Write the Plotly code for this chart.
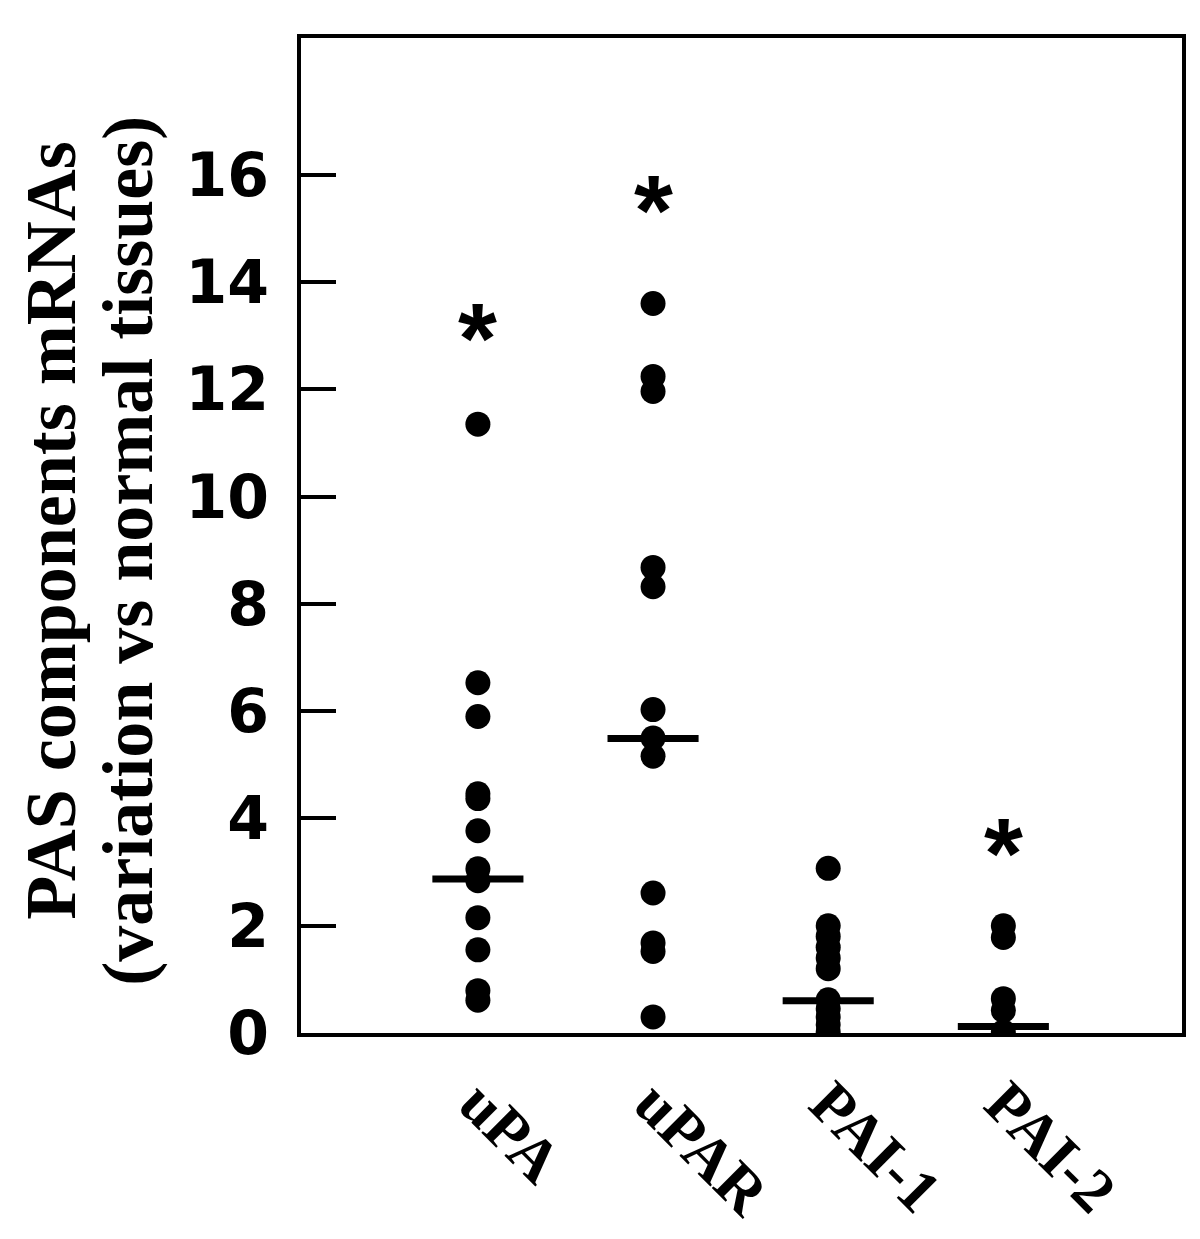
import plotly.graph_objects as go

categories = ["uPA", "uPAR", "PAI-1", "PAI-2"]
upa = [11.35, 6.53, 5.90, 4.46, 4.37, 3.77, 3.06, 2.84, 2.15, 1.55, 0.79, 0.61]
upar = [13.6, 12.24, 11.96, 8.68, 8.32, 6.03, 5.50, 5.16, 2.61, 1.68, 1.52, 0.30]
pai1 = [3.07, 2.0, 1.8, 1.6, 1.4, 1.2, 0.62, 0.45, 0.3, 0.15, 0.02]
pai2 = [2.0, 1.78, 0.64, 0.42, 0.02]
medians = [2.87, 5.49, 0.60, 0.12]
series = [upa, upar, pai1, pai2]
star_cats = [1, 2, 4]
star_y = [12.95, 15.35, 3.36]
y_ticks = [0, 2, 4, 6, 8, 10, 12, 14, 16]

fig = go.Figure()
for i, vals in enumerate(series, start=1):
    fig.add_trace(go.Scatter(x=[i] * len(vals), y=vals, mode="markers",
                             marker=dict(size=25, color="black", line=dict(width=0)),
                             showlegend=False, hoverinfo="skip"))
for i, m in enumerate(medians, start=1):
    fig.add_trace(go.Scatter(x=[i - 0.26, i + 0.26], y=[m, m], mode="lines",
                             line=dict(width=7, color="black"),
                             showlegend=False, hoverinfo="skip"))

for c, y in zip(star_cats, star_y):
    fig.add_annotation(x=c, y=y, xref="x", yref="y", text="*", showarrow=False,
                       font=dict(family="Liberation Sans", size=100, color="black", weight="bold"),
                       xanchor="center", yanchor="middle")

fig.add_annotation(xref="paper", yref="paper", x=-0.284, y=0.5055,
                   text="PAS components mRNAs", textangle=-90, showarrow=False,
                   font=dict(family="Liberation Serif", size=72, color="black", weight="bold"),
                   xanchor="center", yanchor="middle")
fig.add_annotation(xref="paper", yref="paper", x=-0.196, y=0.485,
                   text="(variation vs normal tissues)", textangle=-90, showarrow=False,
                   font=dict(family="Liberation Serif", size=72, color="black", weight="bold"),
                   xanchor="center", yanchor="middle")

fig.update_layout(
    width=1200, height=1239,
    margin=dict(l=293, r=26, t=30, b=214, autoexpand=False),
    plot_bgcolor="white", paper_bgcolor="white",
    showlegend=False,
)
fig.update_xaxes(range=[-0.01, 5.02], tickvals=[1, 2, 3, 4], ticktext=categories,
                 tickangle=45, showline=True, mirror=True, linewidth=4, linecolor="black",
                 showgrid=False, zeroline=False, ticks="", ticklabelstandoff=5,
                 automargin=False,
                 tickfont=dict(family="Liberation Serif", size=62, color="black", weight="bold"))
fig.update_yaxes(range=[0, 18.55], tickvals=y_ticks, ticktext=[str(t) for t in y_ticks],
                 ticks="inside", ticklen=35, tickwidth=4, tickcolor="black",
                 showline=True, mirror=True, linewidth=4, linecolor="black",
                 showgrid=False, zeroline=False, ticklabelstandoff=16, automargin=False,
                 tickfont=dict(family="DejaVu Sans", size=60, color="black", weight="bold"))

fig.write_html("out.html")
